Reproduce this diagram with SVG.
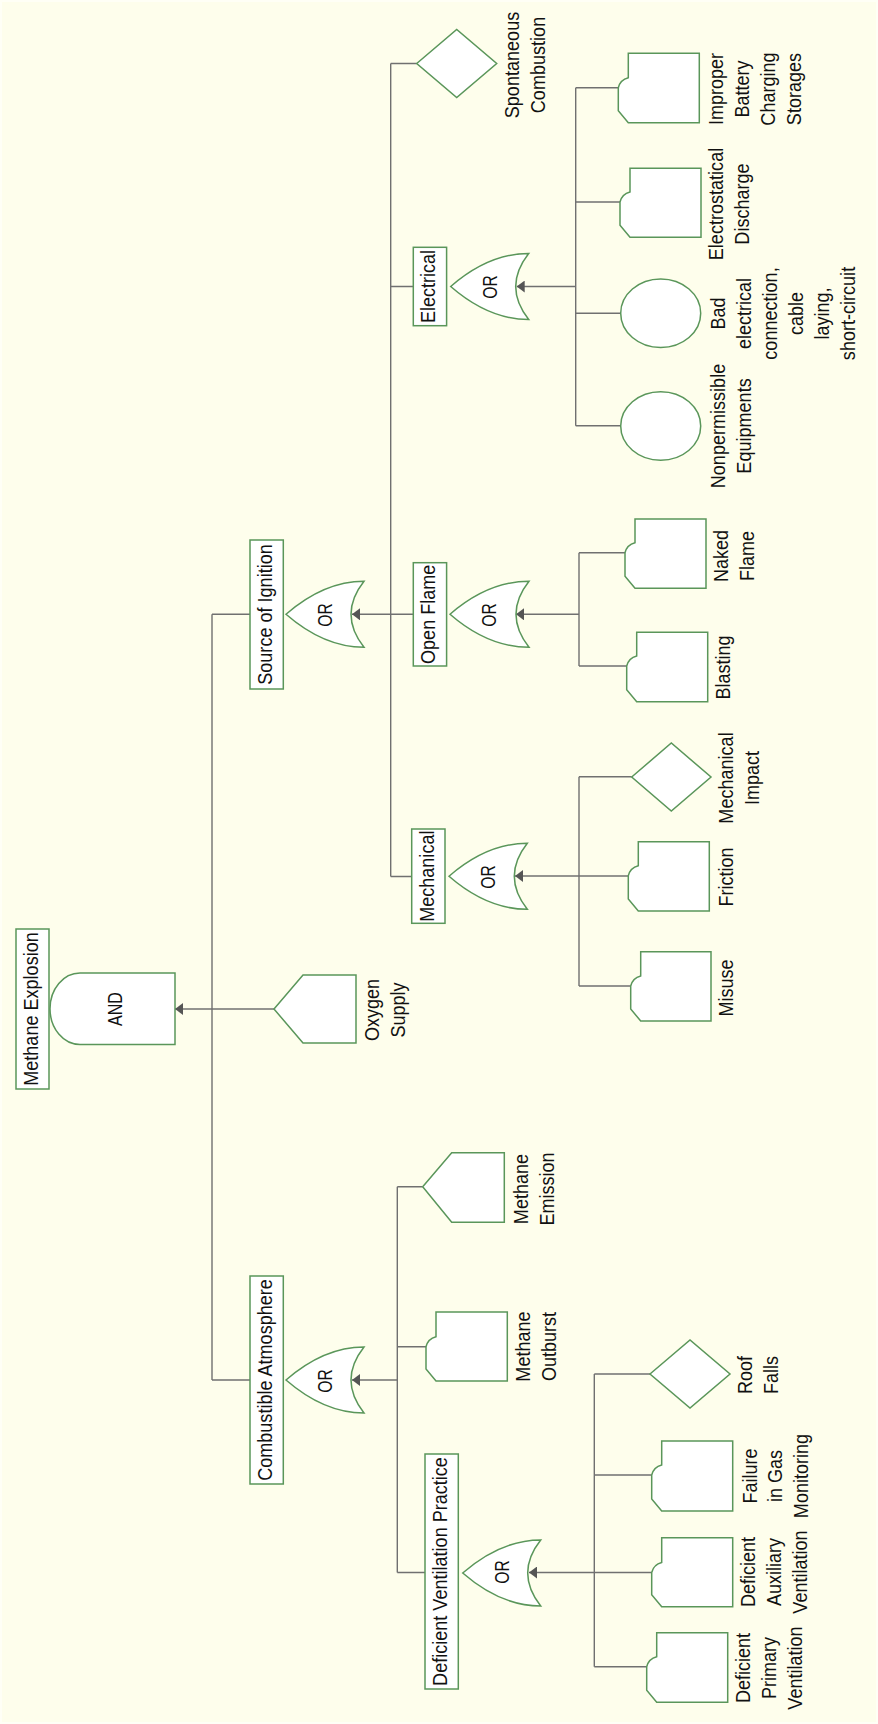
<svg xmlns="http://www.w3.org/2000/svg" width="878" height="1724" viewBox="0 0 878 1724">
<defs>
<style>
.n{fill:#fff;stroke:#5a965a;stroke-width:1.5}
.c{fill:none;stroke:#707070;stroke-width:1.4}
.t{font-family:"Liberation Sans",Arial,sans-serif;font-size:21px;fill:#111;text-anchor:middle}
.g{font-family:"Liberation Sans",Arial,sans-serif;font-size:20px;fill:#111;text-anchor:middle}
</style>
<marker id="arr" markerUnits="userSpaceOnUse" markerWidth="8" markerHeight="12" viewBox="0 0 8 12" refX="8" refY="6" orient="auto"><path d="M0,0 L8,6 L0,12 Z" fill="#555"/></marker>
</defs>
<rect x="0" y="0" width="878" height="1724" fill="#FFFFF6"/>
<rect x="2" y="2" width="874" height="1720" fill="#FEFEEC"/>

<g id="connectors">
<path class="c" d="M274,1009 H175" marker-end="url(#arr)"/>
<path class="c" d="M212,614.3 V1380 M212,614.3 H250 M212,1380 H250"/>
<path class="c" d="M413.3,614.3 H352" marker-end="url(#arr)"/>
<path class="c" d="M390.7,63.5 V876.5 M390.7,63.5 H416.7 M390.7,286.5 H413.3 M390.7,876.5 H411.7"/>
<path class="c" d="M575.7,286.5 H516.7" marker-end="url(#arr)"/>
<path class="c" d="M575.7,87.7 V425.7 M575.7,87.7 H618.3 M575.7,202 H620 M575.7,313.3 H620.7 M575.7,425.7 H620.7"/>
<path class="c" d="M579,614.3 H516" marker-end="url(#arr)"/>
<path class="c" d="M579,552.7 V666 M579,552.7 H625 M579,666 H626.7"/>
<path class="c" d="M628.3,876 H515" marker-end="url(#arr)"/>
<path class="c" d="M579,776.7 V986 M579,776.7 H631.7 M579,986 H630.7"/>
<path class="c" d="M397.3,1380 H352" marker-end="url(#arr)"/>
<path class="c" d="M397.3,1186.7 V1572.5 M397.3,1186.7 H422.7 M397.3,1346.7 H426 M397.3,1572.5 H425"/>
<path class="c" d="M651.7,1572.5 H529" marker-end="url(#arr)"/>
<path class="c" d="M594.3,1374 V1666.7 M594.3,1374 H650 M594.3,1475 H651.7 M594.3,1666.7 H646.7"/>
</g>

<g id="methane-explosion">
<rect class="n" x="16" y="929" width="33" height="160"/>
<text class="t" transform="translate(38,1009) rotate(-90) scale(0.86,1)">Methane Explosion</text>
</g>
<g id="and-gate">
<path class="n" d="M80,973 H175 V1044.5 H80 A30,35.75 0 0 1 80,973 Z"/>
<text class="g" transform="translate(122,1009) rotate(-90) scale(0.8,1)">AND</text>
</g>
<g id="oxygen-supply">
<path class="n" d="M274,1009 L303,975 H356 V1043 H303 Z"/>
<text class="t" transform="translate(379,1010) rotate(-90) scale(0.86,1)"><tspan x="0" y="0">Oxygen</tspan><tspan x="0" dy="26">Supply</tspan></text>
</g>

<g id="source-of-ignition">
<rect class="n" x="250" y="540" width="33.3" height="149"/>
<text class="t" transform="translate(272,614.5) rotate(-90) scale(0.86,1)">Source of Ignition</text>
<path class="n" d="M286,614.3 Q324,581.3 364,581.3 Q338,614.3 364,647.3 Q324,647.3 286,614.3 Z"/>
<text class="g" transform="translate(332,615) rotate(-90) scale(0.78,1)">OR</text>
</g>

<g id="spontaneous-combustion">
<path class="n" d="M416.7,63.5 L456.7,29.5 L496.7,63.5 L456.7,97.5 Z"/>
<text class="t" transform="translate(519,65) rotate(-90) scale(0.86,1)"><tspan x="0" y="0">Spontaneous</tspan><tspan x="0" dy="26">Combustion</tspan></text>
</g>

<g id="electrical">
<rect class="n" x="413.3" y="247.3" width="33.3" height="78.4"/>
<text class="t" transform="translate(435.3,286.5) rotate(-90) scale(0.86,1)">Electrical</text>
<path class="n" d="M450.7,286.5 Q488.7,253.5 528.7,253.5 Q502.7,286.5 528.7,319.5 Q488.7,319.5 450.7,286.5 Z"/>
<text class="g" transform="translate(496.7,287) rotate(-90) scale(0.78,1)">OR</text>
</g>

<g id="improper-battery">
<path class="n" d="M628.3,53.3 H699.3 V122.7 H628.3 L618.3,110.7 V87.7 Q620.3,79.7 628.3,77.7 Z"/>
<text class="t" transform="translate(723.3,89) rotate(-90) scale(0.86,1)"><tspan x="0" y="0">Improper</tspan><tspan x="0" dy="26">Battery</tspan><tspan x="0" dy="26">Charging</tspan><tspan x="0" dy="26">Storages</tspan></text>
</g>
<g id="electrostatical-discharge">
<path class="n" d="M630,168.3 H701 V237.3 H630 L620,225.3 V202 Q622,194 630,192 Z"/>
<text class="t" transform="translate(723.3,204) rotate(-90) scale(0.86,1)"><tspan x="0" y="0">Electrostatical</tspan><tspan x="0" dy="26">Discharge</tspan></text>
</g>
<g id="bad-electrical">
<ellipse class="n" cx="660.7" cy="313.3" rx="40" ry="34.3"/>
<text class="t" transform="translate(725,313.5) rotate(-90) scale(0.86,1)"><tspan x="0" y="0">Bad</tspan><tspan x="0" dy="26">electrical</tspan><tspan x="0" dy="26">connection,</tspan><tspan x="0" dy="26">cable</tspan><tspan x="0" dy="26">laying,</tspan><tspan x="0" dy="26">short-circuit</tspan></text>
</g>
<g id="nonpermissible-equipments">
<ellipse class="n" cx="660.7" cy="426" rx="40" ry="34.3"/>
<text class="t" transform="translate(725,426) rotate(-90) scale(0.86,1)"><tspan x="0" y="0">Nonpermissible</tspan><tspan x="0" dy="26">Equipments</tspan></text>
</g>

<g id="open-flame">
<rect class="n" x="413.3" y="562.7" width="33.3" height="103.3"/>
<text class="t" transform="translate(435.3,614.3) rotate(-90) scale(0.86,1)">Open Flame</text>
<path class="n" d="M450,614.3 Q488,581.3 529,581.3 Q503,614.3 529,647.3 Q488,647.3 450,614.3 Z"/>
<text class="g" transform="translate(496,615) rotate(-90) scale(0.78,1)">OR</text>
</g>
<g id="naked-flame">
<path class="n" d="M635,519 H706 V588.3 H635 L625,576.3 V552.7 Q627,544.7 635,542.7 Z"/>
<text class="t" transform="translate(728.3,556) rotate(-90) scale(0.86,1)"><tspan x="0" y="0">Naked</tspan><tspan x="0" dy="26">Flame</tspan></text>
</g>
<g id="blasting">
<path class="n" d="M636.7,632.3 H707.7 V701.7 H636.7 L626.7,689.7 V666 Q628.7,658 636.7,656 Z"/>
<text class="t" transform="translate(730,667.5) rotate(-90) scale(0.86,1)">Blasting</text>
</g>

<g id="mechanical">
<rect class="n" x="411.7" y="829" width="33.3" height="94.3"/>
<text class="t" transform="translate(433.7,876.2) rotate(-90) scale(0.86,1)">Mechanical</text>
<path class="n" d="M449,876.3 Q487,843.3 527.3,843.3 Q501.3,876.3 527.3,909.3 Q487,909.3 449,876.3 Z"/>
<text class="g" transform="translate(495,877) rotate(-90) scale(0.78,1)">OR</text>
</g>
<g id="mechanical-impact">
<path class="n" d="M631.7,777 L671.3,743 L711,777 L671.3,811 Z"/>
<text class="t" transform="translate(733.3,778) rotate(-90) scale(0.86,1)"><tspan x="0" y="0">Mechanical</tspan><tspan x="0" dy="26">Impact</tspan></text>
</g>
<g id="friction">
<path class="n" d="M638.3,841.7 H709.3 V911 H638.3 L628.3,899 V875.7 Q630.3,867.7 638.3,865.7 Z"/>
<text class="t" transform="translate(732.7,877) rotate(-90) scale(0.86,1)">Friction</text>
</g>
<g id="misuse">
<path class="n" d="M640.7,951.7 H711 V1021 H640.7 L630.7,1009 V986 Q632.7,978 640.7,976 Z"/>
<text class="t" transform="translate(733.3,988) rotate(-90) scale(0.86,1)">Misuse</text>
</g>

<g id="combustible-atmosphere">
<rect class="n" x="250" y="1276" width="33.3" height="208"/>
<text class="t" transform="translate(272,1380) rotate(-90) scale(0.86,1)">Combustible Atmosphere</text>
<path class="n" d="M286,1380 Q324,1347 364,1347 Q338,1380 364,1413 Q324,1413 286,1380 Z"/>
<text class="g" transform="translate(332,1381) rotate(-90) scale(0.78,1)">OR</text>
</g>
<g id="methane-emission">
<path class="n" d="M422.7,1186.7 L451.7,1152.7 H504.3 V1222.3 H451.7 Z"/>
<text class="t" transform="translate(528,1189) rotate(-90) scale(0.86,1)"><tspan x="0" y="0">Methane</tspan><tspan x="0" dy="26">Emission</tspan></text>
</g>
<g id="methane-outburst">
<path class="n" d="M436,1312 H507.3 V1381 H436 L426,1369 V1346.7 Q428,1338.7 436,1336.7 Z"/>
<text class="t" transform="translate(530,1346.5) rotate(-90) scale(0.86,1)"><tspan x="0" y="0">Methane</tspan><tspan x="0" dy="26">Outburst</tspan></text>
</g>

<g id="deficient-ventilation-practice">
<rect class="n" x="425" y="1454" width="33.3" height="235"/>
<text class="t" transform="translate(447,1571.5) rotate(-90) scale(0.86,1)">Deficient Ventilation Practice</text>
<path class="n" d="M462.7,1573 Q500.7,1540 540.7,1540 Q514.7,1573 540.7,1606 Q500.7,1606 462.7,1573 Z"/>
<text class="g" transform="translate(508.7,1572) rotate(-90) scale(0.78,1)">OR</text>
</g>
<g id="roof-falls">
<path class="n" d="M650,1374 L690,1340 L730,1374 L690,1408 Z"/>
<text class="t" transform="translate(752,1375) rotate(-90) scale(0.86,1)"><tspan x="0" y="0">Roof</tspan><tspan x="0" dy="26">Falls</tspan></text>
</g>
<g id="failure-gas-monitoring">
<path class="n" d="M661.7,1441 H732.7 V1511 H661.7 L651.7,1499 V1475 Q653.7,1467 661.7,1465 Z"/>
<text class="t" transform="translate(756.5,1476) rotate(-90) scale(0.86,1)"><tspan x="0" y="0">Failure</tspan><tspan x="0" dy="26">in Gas</tspan><tspan x="0" dy="26">Monitoring</tspan></text>
</g>
<g id="deficient-auxiliary">
<path class="n" d="M661.7,1537.7 H732.7 V1606.7 H661.7 L651.7,1594.7 V1572.5 Q653.7,1564.5 661.7,1562.5 Z"/>
<text class="t" transform="translate(755,1572) rotate(-90) scale(0.86,1)"><tspan x="0" y="0">Deficient</tspan><tspan x="0" dy="26">Auxiliary</tspan><tspan x="0" dy="26">Ventilation</tspan></text>
</g>
<g id="deficient-primary">
<path class="n" d="M656.7,1632.7 H727.7 V1702.3 H656.7 L646.7,1690.3 V1666.7 Q648.7,1658.7 656.7,1656.7 Z"/>
<text class="t" transform="translate(750,1668) rotate(-90) scale(0.86,1)"><tspan x="0" y="0">Deficient</tspan><tspan x="0" dy="26">Primary</tspan><tspan x="0" dy="26">Ventilation</tspan></text>
</g>
</svg>
